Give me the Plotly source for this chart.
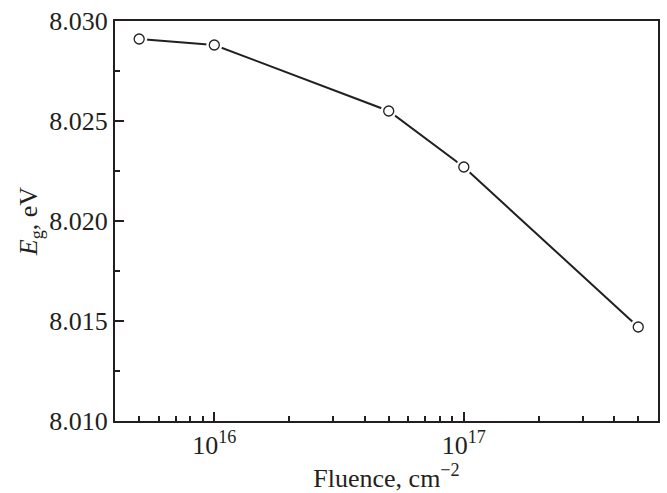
import math
import plotly.graph_objects as go

# Band gap vs. fluence
fluence = [5e15, 1e16, 5e16, 1e17, 5e17]
eg_ev = [8.0291, 8.0288, 8.0255, 8.0227, 8.0147]

x_major = [1e16, 1e17]
x_major_text = ["10<sup>16</sup>", "10<sup>17</sup>"]
x_minor = [k * 10 ** e for e in (15, 16, 17) for k in range(1, 10)]

FONT = "Liberation Serif, Times New Roman, serif"
INK = "#231f20"
SIZE = 26

fig = go.Figure()
fig.add_trace(go.Scatter(x=fluence, y=eg_ev, mode="lines",
                         line=dict(color=INK, width=2), hoverinfo="skip"))
# white halo so the line stops short of each marker
fig.add_trace(go.Scatter(x=fluence, y=eg_ev, mode="markers",
                         marker=dict(symbol="circle", size=16, color="white",
                                     line=dict(width=0)), hoverinfo="skip"))
fig.add_trace(go.Scatter(x=fluence, y=eg_ev, mode="markers",
                         marker=dict(symbol="circle", size=10, color="white",
                                     line=dict(color=INK, width=1.3))))

fig.update_layout(
    width=667, height=493,
    margin=dict(l=115, r=7, t=18, b=72),
    paper_bgcolor="white", plot_bgcolor="white",
    showlegend=False,
    font=dict(family=FONT, size=SIZE, color=INK),
)
fig.update_xaxes(
    type="log",
    range=[math.log10(4e15), math.log10(6e17)],
    tickmode="array", tickvals=x_major, ticktext=x_major_text,
    ticks="inside", ticklen=9, tickwidth=1.5, tickcolor=INK,
    minor=dict(tickmode="array", tickvals=x_minor, ticks="inside",
               ticklen=5, tickwidth=1.5, tickcolor=INK),
    showline=True, linewidth=2, linecolor=INK, mirror=True,
    showgrid=False, zeroline=False,
    tickfont=dict(family=FONT, size=SIZE, color=INK),
    title=dict(text="Fluence, cm<sup>−2</sup>", standoff=2,
               font=dict(family=FONT, size=SIZE, color=INK)),
)
fig.update_yaxes(
    range=[8.010, 8.030],
    tickmode="linear", tick0=8.010, dtick=0.005, tickformat=".3f",
    ticks="inside", ticklen=9, tickwidth=1.5, tickcolor=INK,
    minor=dict(dtick=0.0025, ticks="inside", ticklen=5, tickwidth=1.5,
               tickcolor=INK),
    showline=True, linewidth=2, linecolor=INK, mirror=True,
    showgrid=False, zeroline=False,
    tickfont=dict(family=FONT, size=SIZE, color=INK),
    title=dict(text="<i>E</i><sub>g</sub>, eV", standoff=4,
               font=dict(family=FONT, size=SIZE, color=INK)),
)

fig.write_html("out.html")
